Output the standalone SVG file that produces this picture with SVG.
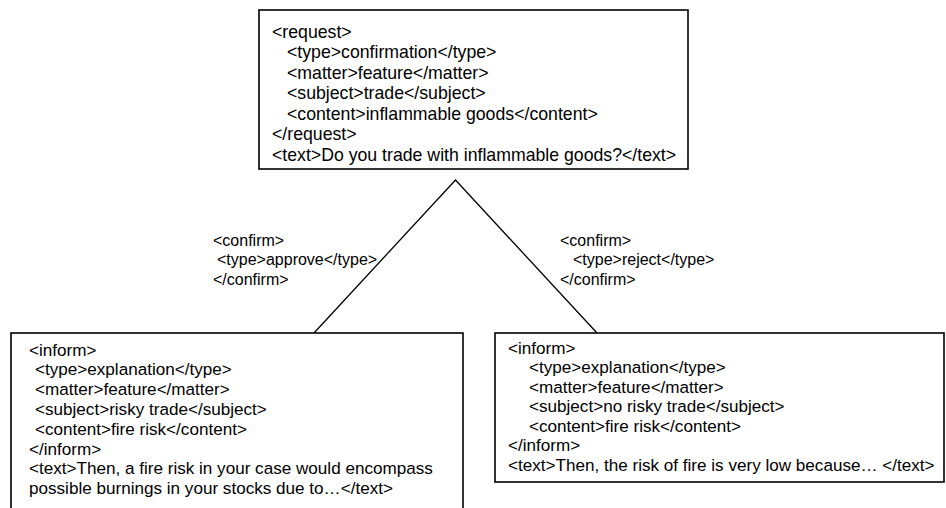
<svg xmlns="http://www.w3.org/2000/svg" width="946" height="508" viewBox="0 0 946 508">
<style>
.box{fill:#fff;stroke:#000;stroke-width:1.6}
.t{font-family:"Liberation Sans",Arial,sans-serif;font-size:17.1px;fill:#000}
.tt{font-family:"Liberation Sans",Arial,sans-serif;font-size:17.7px;fill:#000}
.lb{font-family:"Liberation Sans",Arial,sans-serif;font-size:16px;fill:#000}
.edge{stroke:#000;stroke-width:1.3;fill:none}
</style>
<rect width="946" height="508" fill="#fff"/>
<g id="connectors">
<polyline class="edge" points="314,333 455.5,180 597,333"/>
<g id="label-approve">
<text class="lb" x="213" y="245.5">&lt;confirm&gt;</text>
<text class="lb" x="217" y="265">&lt;type&gt;approve&lt;/type&gt;</text>
<text class="lb" x="213" y="284.5">&lt;/confirm&gt;</text>
</g>
<g id="label-reject">
<text class="lb" x="560" y="245.5">&lt;confirm&gt;</text>
<text class="lb" x="573" y="265">&lt;type&gt;reject&lt;/type&gt;</text>
<text class="lb" x="560" y="284.5">&lt;/confirm&gt;</text>
</g>
</g>
<g id="request">
<rect class="box" x="259" y="10" width="429" height="159"/>
<text class="tt" x="272" y="37.5">&lt;request&gt;</text>
<text class="tt" x="287" y="58">&lt;type&gt;confirmation&lt;/type&gt;</text>
<text class="tt" x="287" y="78.5">&lt;matter&gt;feature&lt;/matter&gt;</text>
<text class="tt" x="287" y="99">&lt;subject&gt;trade&lt;/subject&gt;</text>
<text class="tt" x="287" y="119.5">&lt;content&gt;inflammable goods&lt;/content&gt;</text>
<text class="tt" x="272" y="140">&lt;/request&gt;</text>
<text class="tt" x="272" y="160.5">&lt;text&gt;Do you trade with inflammable goods?&lt;/text&gt;</text>
</g>
<g id="inform-approve">
<rect class="box" x="11" y="333" width="452" height="185"/>
<text class="t" x="29" y="355.5">&lt;inform&gt;</text>
<text class="t" x="35" y="375.3">&lt;type&gt;explanation&lt;/type&gt;</text>
<text class="t" x="35" y="395.1">&lt;matter&gt;feature&lt;/matter&gt;</text>
<text class="t" x="35" y="414.9">&lt;subject&gt;risky trade&lt;/subject&gt;</text>
<text class="t" x="35" y="434.7">&lt;content&gt;fire risk&lt;/content&gt;</text>
<text class="t" x="29" y="454.5">&lt;/inform&gt;</text>
<text class="t" x="29" y="474.3">&lt;text&gt;Then, a fire risk in your case would encompass</text>
<text class="t" x="29" y="494.1">possible burnings in your stocks due to…&lt;/text&gt;</text>
</g>
<g id="inform-reject">
<rect class="box" x="495" y="333" width="449" height="149"/>
<text class="t" x="508" y="353.5">&lt;inform&gt;</text>
<text class="t" x="529" y="373">&lt;type&gt;explanation&lt;/type&gt;</text>
<text class="t" x="529" y="392.5">&lt;matter&gt;feature&lt;/matter&gt;</text>
<text class="t" x="529" y="412">&lt;subject&gt;no risky trade&lt;/subject&gt;</text>
<text class="t" x="529" y="431.5">&lt;content&gt;fire risk&lt;/content&gt;</text>
<text class="t" x="508" y="451">&lt;/inform&gt;</text>
<text class="t" x="508" y="470.5">&lt;text&gt;Then, the risk of fire is very low because… &lt;/text&gt;</text>
</g>
</svg>
